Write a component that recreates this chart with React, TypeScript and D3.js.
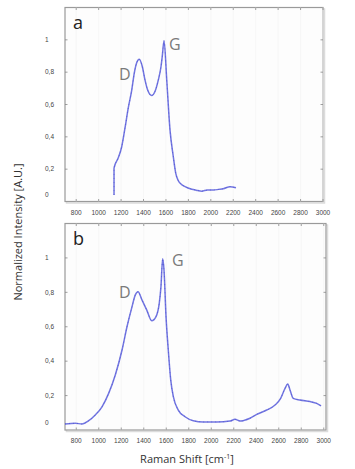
import React from "react";
import * as d3 from "d3";

const xTicks = [800, 1000, 1200, 1400, 1600, 1800, 2000, 2200, 2400, 2600, 2800, 3000];
const yTicks = [0, 0.2, 0.4, 0.6, 0.8, 1];
const yTickLabels = ["0", "0,2", "0,4", "0,6", "0,8", "1"];

const shiftA = [1137, 1137, 1175, 1205, 1235, 1264, 1295, 1318, 1339, 1362, 1389, 1413, 1437, 1473, 1502, 1532, 1556, 1567, 1583, 1607, 1636, 1665, 1687, 1707, 1734, 1770, 1830, 1870, 1919, 1970, 2022, 2070, 2111, 2171, 2224];
const intensityA = [0.04, 0.207, 0.27, 0.337, 0.455, 0.579, 0.689, 0.796, 0.858, 0.88, 0.835, 0.752, 0.689, 0.655, 0.68, 0.752, 0.835, 0.897, 0.995, 0.752, 0.443, 0.28, 0.176, 0.133, 0.108, 0.092, 0.076, 0.07, 0.064, 0.071, 0.071, 0.075, 0.079, 0.092, 0.085];

const shiftB = [700, 792, 851, 911, 969, 1029, 1088, 1147, 1207, 1251, 1296, 1325, 1349, 1384, 1426, 1471, 1509, 1538, 1553, 1568, 1580, 1598, 1618, 1640, 1663, 1707, 1767, 1840, 1929, 2048, 2167, 2211, 2256, 2344, 2404, 2493, 2567, 2617, 2656, 2680, 2700, 2729, 2789, 2878, 2937, 2976];
const intensityB = [0.035, 0.039, 0.035, 0.054, 0.087, 0.135, 0.213, 0.32, 0.465, 0.6, 0.717, 0.785, 0.804, 0.756, 0.698, 0.635, 0.659, 0.737, 0.833, 0.995, 0.93, 0.659, 0.465, 0.29, 0.194, 0.116, 0.077, 0.054, 0.047, 0.047, 0.052, 0.062, 0.052, 0.068, 0.091, 0.116, 0.145, 0.184, 0.242, 0.267, 0.233, 0.184, 0.174, 0.165, 0.155, 0.14];

const panelLabels = ["a", "b"];
const peakLabels = ["D", "G"];
const xTitle = "Raman Shift [cm";
const yTitle = "Normalized Intensity [A.U.]";

const LINE = "#5a5fdc";

type PanelProps = {
  xs: number[];
  ys: number[];
  left: number;
  right: number;
  top: number;
  bottom: number;
  xMax: number;
  label: string;
  dPos: [number, number];
  gPos: [number, number];
};

function Panel({ xs, ys, left, right, top, bottom, xMax, label, dPos, gPos }: PanelProps) {
  const x = d3.scaleLinear().domain([700, xMax]).range([left, right]);
  const y = d3.scaleLinear().domain([0, 1.2]).range([bottom, top]);
  const pts = xs.map((v, i) => [v, ys[i]] as [number, number]);
  const line = d3
    .line<[number, number]>()
    .x((d) => x(d[0]))
    .y((d) => y(d[1]))
    .curve(d3.curveMonotoneX);
  return (
    <g>
      <rect x={left + 1.5} y={top + 1.5} width={right - left} height={bottom - top} fill="none" stroke="#dcdcdc" strokeWidth={1.5} />
      <rect x={left} y={top} width={right - left} height={bottom - top} fill="#fdfdfd" stroke="#9a9a9a" strokeWidth={1.2} />
      {xTicks.map((t) => (
        <line key={"g" + t} x1={x(t)} x2={x(t)} y1={top} y2={bottom} stroke="#f5f5f5" strokeWidth={0.8} />
      ))}
      {xTicks.map((t) => (
        <g key={"xt" + t}>
          <line x1={x(t)} x2={x(t)} y1={bottom} y2={bottom - 2.5} stroke="#888" strokeWidth={0.8} />
          <line x1={x(t)} x2={x(t)} y1={top} y2={top + 2.5} stroke="#888" strokeWidth={0.8} />
          <text x={x(t)} y={bottom + 13} fontSize={6.5} fill="#444" textAnchor="middle" fontFamily="Liberation Sans, Arial, sans-serif">
            {t}
          </text>
        </g>
      ))}
      {yTicks.map((t, i) => (
        <g key={"yt" + t}>
          {t > 0 && <line x1={left} x2={left + 2.5} y1={y(t)} y2={y(t)} stroke="#888" strokeWidth={0.8} />}
          {t > 0 && <line x1={right} x2={right - 2.5} y1={y(t)} y2={y(t)} stroke="#888" strokeWidth={0.8} />}
          <text x={45} y={y(t) + (t === 0 ? -5 : 2.3)} fontSize={6.5} fill="#444" fontFamily="Liberation Sans, Arial, sans-serif">
            {yTickLabels[i]}
          </text>
        </g>
      ))}
      <path d={line(pts) || ""} fill="none" stroke={LINE} strokeWidth={1.5} strokeOpacity={0.85} strokeLinejoin="round" />
      <path d={line(pts) || ""} fill="none" stroke="#3a3fc8" strokeWidth={0.6} strokeDasharray="1 3" strokeOpacity={0.8} />
      <text x={left + 8} y={top + 21} fontSize={18} fill="#222" fontFamily="Open Sans, Liberation Sans, sans-serif">
        {label}
      </text>
      <text x={dPos[0]} y={dPos[1]} fontSize={16} fill="#7a7a7a" fontFamily="Open Sans, Liberation Sans, sans-serif">
        {peakLabels[0]}
      </text>
      <text x={gPos[0]} y={gPos[1]} fontSize={16} fill="#7a7a7a" fontFamily="Open Sans, Liberation Sans, sans-serif">
        {peakLabels[1]}
      </text>
    </g>
  );
}

export default function App() {
  return (
    <svg width={355} height={469} style={{ position: "absolute", left: 0, top: 0, background: "#fff" }}>
      <rect x={0} y={0} width={355} height={469} fill="#fff" />
      <Panel xs={shiftA} ys={intensityA} left={65} right={323} top={7.5} bottom={201.5} xMax={3000} label={panelLabels[0]} dPos={[119, 80]} gPos={[169, 50]} />
      <Panel xs={shiftB} ys={intensityB} left={65} right={326} top={223.5} bottom={430} xMax={3020} label={panelLabels[1]} dPos={[119, 298]} gPos={[172, 266]} />
      <text transform="translate(22,232) rotate(-90)" fontSize={11} fill="#333" textAnchor="middle" fontFamily="Open Sans, Liberation Sans, sans-serif">
        {yTitle}
      </text>
      <text x={187} y={463} fontSize={11} fill="#333" textAnchor="middle" fontFamily="Open Sans, Liberation Sans, sans-serif">
        {xTitle}
        <tspan fontSize={7} dy={-4}>-1</tspan>
        <tspan dy={4}>]</tspan>
      </text>
    </svg>
  );
}
